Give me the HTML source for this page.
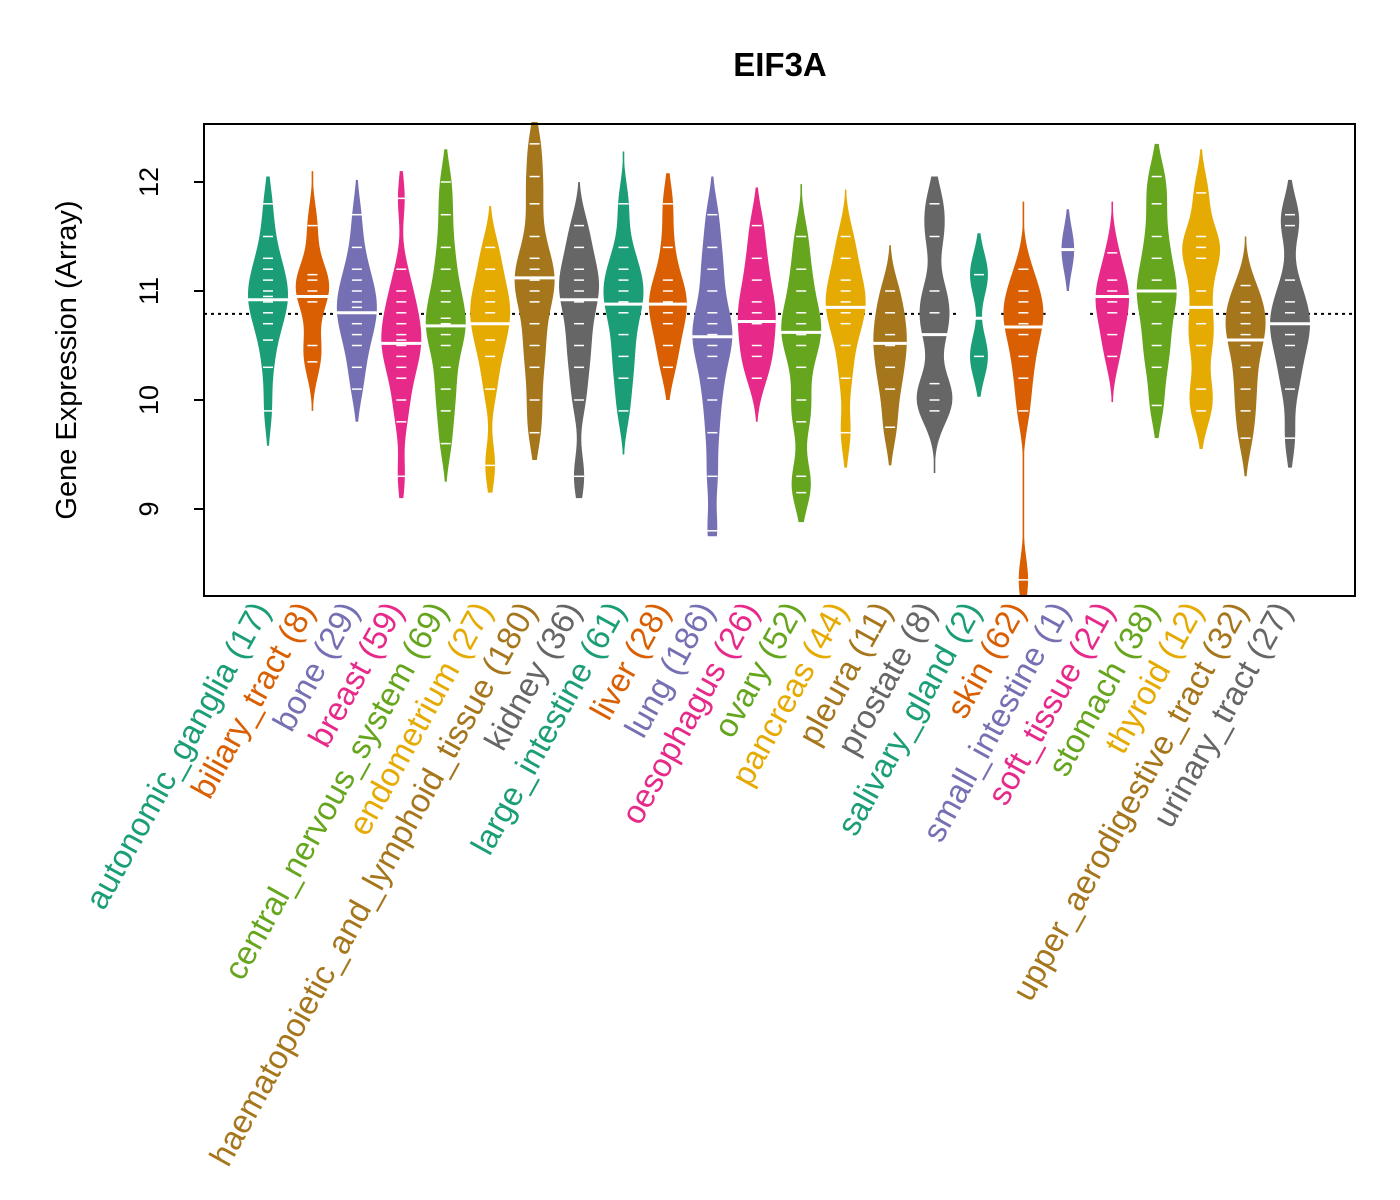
<!DOCTYPE html>
<html><head><meta charset="utf-8"><style>
html,body{margin:0;padding:0;background:#fff;}
svg{display:block;font-family:"Liberation Sans",Arial,sans-serif;}
</style></head><body>
<svg id="chart" width="1400" height="1200" viewBox="0 0 1400 1200">
<rect x="0" y="0" width="1400" height="1200" fill="#fff"/>
<text x="780" y="76" text-anchor="middle" font-size="33" font-weight="bold">EIF3A</text>
<text transform="translate(76,360) rotate(-90)" text-anchor="middle" font-size="29">Gene Expression (Array)</text>
<g id="plot"></g>
<rect x="204" y="124" width="1151" height="472" fill="none" stroke="#000" stroke-width="2"/>
</svg>
<script>
const categories=["autonomic_ganglia","biliary_tract","bone","breast","central_nervous_system","endometrium","haematopoietic_and_lymphoid_tissue","kidney","large_intestine","liver","lung","oesophagus","ovary","pancreas","pleura","prostate","salivary_gland","skin","small_intestine","soft_tissue","stomach","thyroid","upper_aerodigestive_tract","urinary_tract"];
const counts=[17,8,29,59,69,27,180,36,61,28,186,26,52,44,11,8,2,62,1,21,38,12,32,27];
const medians=[10.92,10.95,10.8,10.52,10.68,10.7,11.12,10.92,10.88,10.88,10.58,10.72,10.62,10.85,10.52,10.6,10.75,10.67,11.38,10.95,11.0,10.85,10.55,10.7];
const samples=[
[9.9,10.3,10.55,10.7,10.8,10.9,10.95,11.0,11.1,11.2,11.3,11.5,11.8],
[10.35,10.5,10.9,11.0,11.1,11.15,11.6],
[10.1,10.3,10.5,10.6,10.7,10.8,10.85,10.9,11.0,11.1,11.2,11.4,11.7],
[9.3,9.8,10.0,10.2,10.3,10.4,10.5,10.55,10.6,10.7,10.8,10.9,11.0,11.2,11.85],
[9.6,9.9,10.1,10.3,10.5,10.6,10.7,10.75,10.9,11.0,11.2,11.4,11.7,12.0],
[9.4,10.1,10.4,10.55,10.7,10.8,10.9,11.0,11.2,11.4],
[9.7,10.0,10.3,10.5,10.7,10.9,11.0,11.1,11.2,11.3,11.5,11.8,12.05,12.35],
[9.3,10.0,10.3,10.5,10.7,10.9,11.0,11.1,11.2,11.4,11.6],
[9.9,10.2,10.4,10.6,10.8,10.9,11.0,11.1,11.2,11.4,11.8],
[10.3,10.5,10.7,10.8,10.9,11.0,11.1,11.4,11.8],
[8.8,9.3,9.7,10.0,10.2,10.4,10.5,10.6,10.7,10.8,11.0,11.2,11.4,11.7],
[10.2,10.4,10.5,10.7,10.8,10.9,11.1,11.3,11.6],
[9.15,9.3,9.8,10.0,10.3,10.5,10.6,10.7,10.8,11.0,11.2,11.5],
[9.7,10.2,10.5,10.7,10.8,10.9,11.0,11.1,11.3,11.5],
[9.75,10.1,10.3,10.5,10.6,10.8,11.0],
[9.9,10.0,10.15,10.6,10.8,11.0,11.5,11.8],
[10.4,11.15],
[8.35,9.9,10.2,10.4,10.6,10.7,10.8,10.9,11.0,11.2],
[11.38],
[10.4,10.6,10.8,10.9,11.0,11.1,11.35],
[9.95,10.3,10.5,10.7,10.9,11.0,11.1,11.3,11.5,11.8,12.05],
[9.9,10.1,10.5,10.7,11.0,11.3,11.4,11.5,11.9],
[9.65,9.9,10.1,10.3,10.5,10.6,10.7,10.8,10.9,11.05],
[9.65,10.1,10.3,10.5,10.6,10.7,10.8,10.9,11.1,11.6,11.7]];
const mins=[9.58,9.9,9.8,9.1,9.25,9.15,9.45,9.1,9.5,10.0,8.75,9.8,8.88,9.38,9.4,9.33,10.03,8.2,11.0,9.98,9.65,9.55,9.3,9.38];
const maxs=[12.05,12.1,12.02,12.1,12.3,11.78,12.55,12.0,12.28,12.08,12.05,11.95,11.98,11.93,11.42,12.05,11.53,11.82,11.75,11.82,12.35,12.3,11.5,12.02];
const overall=10.79;
const yTicks=[9,10,11,12];
const colors=["#1B9E77","#D95F02","#7570B3","#E7298A","#66A61E","#E6AB02","#A6761D","#666666"];
const NS="http://www.w3.org/2000/svg";
const g=document.getElementById('plot');
const Y=v=>291-(v-11)*109;
const X=i=>268+i*((1290-268)/(categories.length-1));
function mk(t,a){const e=document.createElementNS(NS,t);for(const k in a)e.setAttribute(k,a[k]);return e;}
yTicks.forEach(t=>{
  const l=mk('line',{x1:194,x2:204,y1:Y(t),y2:Y(t),stroke:'#000','stroke-width':2});
  
  
  g.appendChild(l);
  const tx=mk('text',{x:0,y:0,transform:`translate(158,${Y(t)}) rotate(-90)`,'text-anchor':'middle','font-size':27});
  tx.textContent=t;
  
  
  g.appendChild(tx);
});
const step=(1290-268)/(categories.length-1);
[[204,X(16)-step/2],[X(17)-step/2,X(18)-step/2],[X(19)-step/2,1355]].forEach(s=>{
  const l=mk('line',{x1:s[0],x2:s[1],y1:Y(overall),y2:Y(overall),stroke:'#000','stroke-width':2,'stroke-dasharray':'3,4'});
  
  
  g.appendChild(l);
});
categories.forEach((c,i)=>{
  const col=colors[i%8],cx=X(i),s=samples[i];
  const n=s.length,bw=0.2;
  const pts=[],N=60;
  let mx=0;
  for(let k=0;k<=N;k++){
    const v=mins[i]+(maxs[i]-mins[i])*k/N;
    let d=0;s.forEach(x=>{d+=Math.exp(-0.5*((v-x)/bw)**2);});
    pts.push([v,d]);if(d>mx)mx=d;
  }
  const hw=20*Math.min(1,Math.sqrt(n/10));
  let path='';
  pts.forEach((p,k)=>{const w=Math.max(0.8,hw*p[1]/mx);path+=(k?'L':'M')+(cx+w)+','+Y(p[0]);});
  for(let k=pts.length-1;k>=0;k--){const w=Math.max(0.8,hw*pts[k][1]/mx);path+='L'+(cx-w)+','+Y(pts[k][0]);}
  path+='Z';
  const b=mk('path',{d:path,fill:col});
  
  
  g.appendChild(b);
  s.forEach(v=>{
    const l=mk('line',{x1:cx-5,x2:cx+5,y1:Y(v),y2:Y(v),stroke:'#fff','stroke-width':1.5});
    
    
    g.appendChild(l);
  });
  const m=mk('line',{x1:cx-hw,x2:cx+hw,y1:Y(medians[i]),y2:Y(medians[i]),stroke:'#fff','stroke-width':3});
  
  
  g.appendChild(m);
  const t=mk('text',{x:cx+3,y:610,transform:`rotate(-61,${cx+3},610)`,'text-anchor':'end','font-size':33,fill:col});
  t.textContent=c+' ('+counts[i]+')';
  
  
  g.appendChild(t);
});
</script>
</body></html>
